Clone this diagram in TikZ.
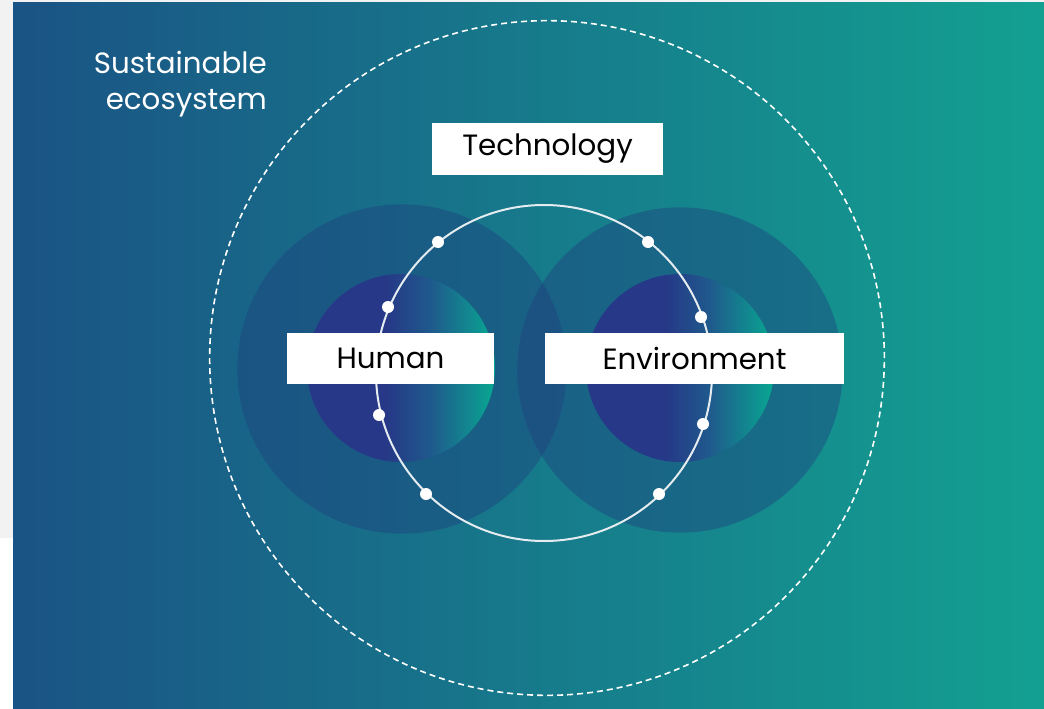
\documentclass[tikz,border=0pt]{standalone}
\usepackage{fontspec}
\setmainfont{Poppins}
\definecolor{bgL}{HTML}{1A5385}
\definecolor{bgR}{HTML}{13A091}
\definecolor{stripgray}{HTML}{F2F2F2}
\definecolor{outerc}{HTML}{1E3F7E}
\definecolor{inA}{HTML}{263887}
\definecolor{inB}{HTML}{1F5A8C}
\definecolor{inC}{HTML}{08A892}
\definecolor{ringc}{HTML}{E4ECF0}
\pgfdeclarehorizontalshading{innergrad}{100bp}{color(0bp)=(inA); color(25bp)=(inA); color(46bp)=(inA); color(58bp)=(inB); color(75bp)=(inC); color(100bp)=(inC)}
\begin{document}
\begin{tikzpicture}[x=0.75pt,y=-0.75pt,
  labelbox/.style={fill=white,inner sep=0pt,font=\fontsize{22}{24}\selectfont,text=black},
  dotnode/.style={circle,fill=white,inner sep=0pt,minimum size=9pt},
  outercircle/.style={fill=outerc,fill opacity=0.42},
  innercircle/.style={shading=innergrad}]
\useasboundingbox (0,0) rectangle (1044,709);
\fill[white] (0,0) rectangle (1044,709);
\fill[stripgray] (0,0) rectangle (13,538);
\fill[stripgray] (0,0) rectangle (1044,3);
\shade[left color=bgL,right color=bgR] (13,3) rectangle (1044,709);
% sustainable ecosystem
\draw[white,line width=1.2pt,dash pattern=on 4.5pt off 3pt] (547,358) circle[radius=253pt];
\node[text=white,align=right,anchor=north east,inner sep=0pt,font=\fontsize{22}{27}\selectfont] (eco) at (267,51) {Sustainable\\ecosystem};
% outer circles
\fill[outercircle] (402,369) circle[radius=123.5pt];
\fill[outercircle] (680,370) circle[radius=122pt];
% inner circles
\shade[innercircle] (401,368) circle[radius=70.5pt];
\shade[innercircle] (680,368) circle[radius=70.5pt];
% technology ring
\draw[ringc,line width=1.5pt] (544,373) circle[radius=126pt];
\foreach \p/\n in {{(438,242)}/d1,{(388,307)}/d2,{(379,415)}/d3,{(426,494)}/d4,{(648,242)}/d5,{(701,317)}/d6,{(703,424)}/d7,{(659,494)}/d8}
  \node[dotnode] (\n) at \p {};
% labels
\node[labelbox,minimum width=173.25pt,minimum height=39pt] (tech) at (547.5,149) {Technology};
\node[labelbox,minimum width=155.25pt,minimum height=38.25pt] (human) at (390.5,358.5) {Human};
\node[labelbox,minimum width=224.25pt,minimum height=38.25pt] (env) at (694.5,358.5) {Environment};
\end{tikzpicture}
\end{document}
